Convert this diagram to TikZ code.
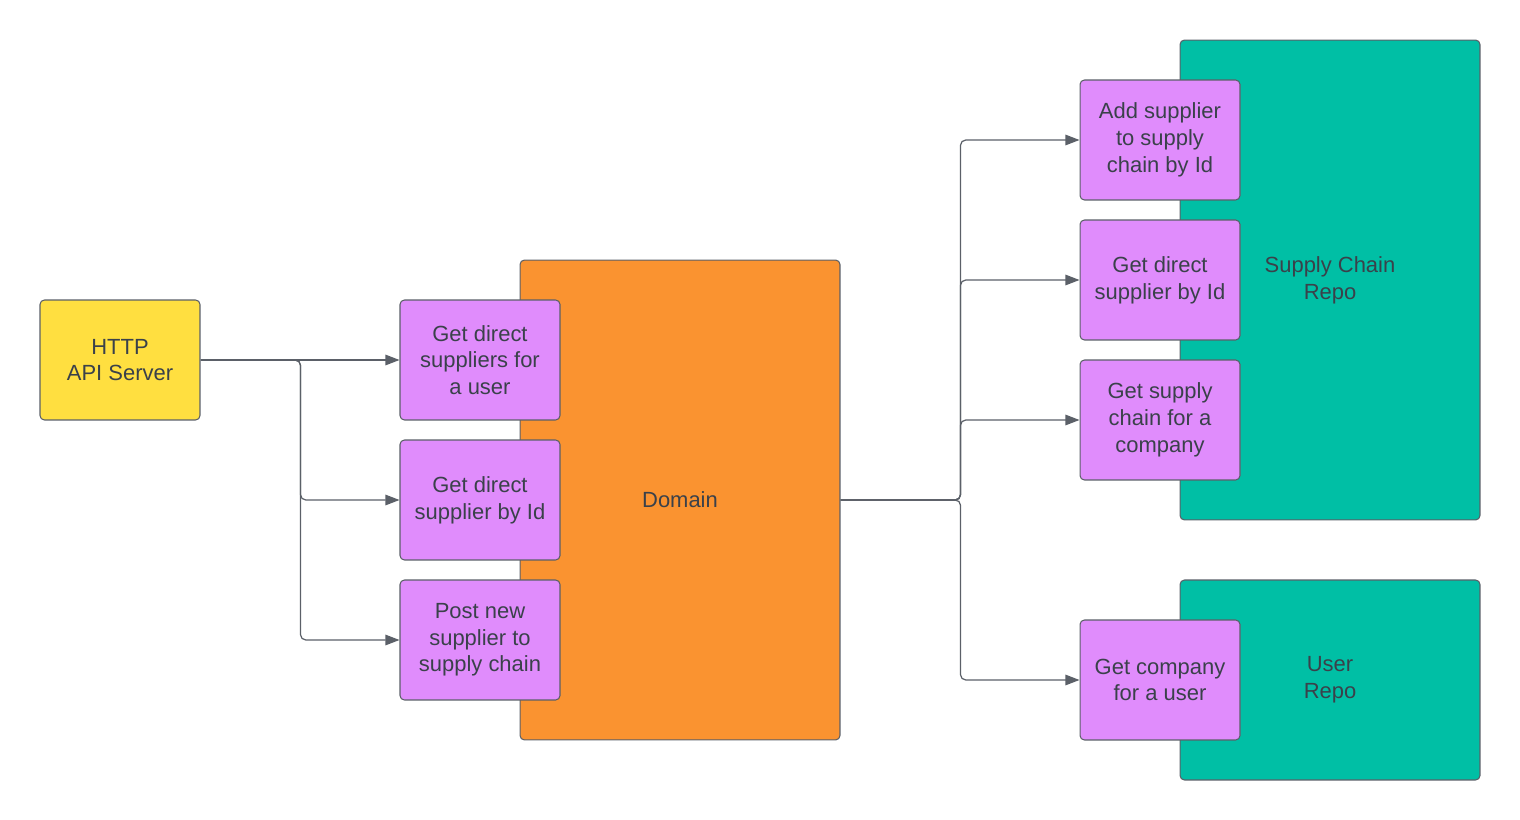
\documentclass[tikz,border=0pt]{standalone}
\usepackage{fontspec}
\setmainfont{Liberation Sans}
\usetikzlibrary{positioning,arrows.meta,calc}
\definecolor{apiyellow}{HTML}{FFDF40}
\definecolor{domorange}{HTML}{FA9330}
\definecolor{oppurple}{HTML}{E08CFC}
\definecolor{repoteal}{HTML}{00BFA5}
\definecolor{edgegray}{HTML}{5B6068}
\definecolor{txtgray}{HTML}{3A414A}
\newcommand\boxfont{\fontsize{12.5}{15.2}\selectfont}
\tikzset{
    block/.style = {draw=edgegray, rectangle, rounded corners=2.5pt,
        line width=0.6pt, text=txtgray, font=\boxfont,
        minimum height=2.4cm, minimum width=3.2cm, align=center},
    opblock/.style = {block, fill=oppurple},
    repo/.style = {block, fill=repoteal, minimum width=6cm},
    arrow/.style = {draw=edgegray, line width=0.7pt, rounded corners=3pt,
        -{Triangle[length=8pt,width=6pt]}}
}
\begin{document}
\begin{tikzpicture}[x=0.02cm, y=-0.02cm, node distance=0.4cm]
    \useasboundingbox (0,0) rectangle (1520,820);
    % containers
    \node [block, fill=domorange, minimum width=6.4cm, minimum height=9.6cm] (domain) at (680,500) {Domain};
    \node [repo, minimum height=9.6cm] (screpo) at (1330,280) {Supply Chain\\Repo};
    \node [repo, minimum height=4cm] (userrepo) at (1330,680) {User\\Repo};
    \node [block, fill=apiyellow] (http) at (120,360) {HTTP\\API Server};
    % domain operations
    \node [opblock] (dsu) at (480,360) {Get direct\\suppliers for\\a user};
    \node [opblock] (dsid) at (480,500) {Get direct\\supplier by Id};
    \node [opblock] (post) at (480,640) {Post new\\supplier to\\supply chain};
    % repo operations
    \node [opblock] (add) at (1160,140) {Add supplier\\to supply\\chain by Id};
    \node [opblock] (gsid) at (1160,280) {Get direct\\supplier by Id};
    \node [opblock] (chain) at (1160,420) {Get supply\\chain for a\\company};
    \node [opblock] (comp) at (1160,680) {Get company\\for a user};
    % connectors
    \draw [arrow] (http.east) -- (dsu.west);
    \foreach \op in {dsid,post}{
        \draw [arrow] (http.east) -- ++(100,0) |- (\op.west);
    }
    \foreach \op in {add,gsid,chain,comp}{
        \draw [arrow] (domain.east) -- ++(120,0) |- (\op.west);
    }
\end{tikzpicture}
\end{document}
